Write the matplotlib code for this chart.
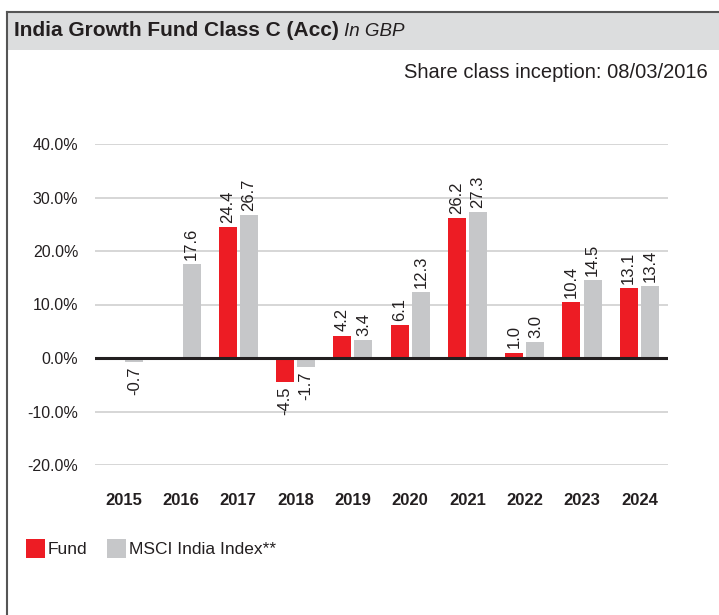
import matplotlib
matplotlib.use("Agg")
import matplotlib.pyplot as plt
from matplotlib.patches import Rectangle
from matplotlib.lines import Line2D
import numpy as np

years = ["2015", "2016", "2017", "2018", "2019", "2020", "2021", "2022", "2023", "2024"]
fund = [None, None, 24.4, -4.5, 4.2, 6.1, 26.2, 1.0, 10.4, 13.1]
index = [-0.7, 17.6, 26.7, -1.7, 3.4, 12.3, 27.3, 3.0, 14.5, 13.4]
yticks = [-20, -10, 0, 10, 20, 30, 40]

RED = "#ed1c24"
GREY = "#c6c7c9"
TXT = "#231f20"
W, H = 719, 615
plt.rcParams['font.family'] = ['Liberation Sans', 'DejaVu Sans']
fig = plt.figure(figsize=(W / 100, H / 100), dpi=100)


def fx(px):
    return px / W


def fy(py):
    return 1 - py / H


# frame and header
fig.patches.append(Rectangle((fx(7), fy(50)), 1 - fx(7), fy(12) - fy(50),
                             transform=fig.transFigure, facecolor="#dcddde", edgecolor="none"))
fig.lines.append(Line2D([fx(7), 1], [fy(12), fy(12)], transform=fig.transFigure, color="#555555", lw=1.5))
fig.lines.append(Line2D([fx(7), fx(7)], [fy(12), 0], transform=fig.transFigure, color="#555555", lw=1.5))

title = fig.text(fx(14), fy(31), "India Growth Fund Class C (Acc)", fontsize=15,
                 fontweight="bold", va="center", ha="left", color=TXT)
fig.canvas.draw()
bb = title.get_window_extent()
fig.text((bb.x1 + 5) / W, fy(31), "In GBP", fontsize=13.5, style="italic",
         va="center", ha="left", color=TXT)
fig.text(fx(708), fy(72), "Share class inception: 08/03/2016", fontsize=14.5,
         va="center", ha="right", color=TXT)

# axes: x 95..668, y: 40% at 144, -20% at 465
ax = fig.add_axes([fx(95), fy(465), fx(668) - fx(95), fy(144) - fy(465)])
ax.set_xlim(-0.5, len(years) - 0.5)
ax.set_ylim(-20, 40)
x = np.arange(len(years))
bw = 0.315
off = 0.185
for i in range(len(years)):
    if fund[i] is not None:
        v = fund[i]
        ax.bar(x[i] - off, v, bw, color=RED, zorder=3)
        ax.text(x[i] - off, v + (0.8 if v >= 0 else -0.8), f"{v:.1f}", rotation=90,
                ha="center", va="bottom" if v >= 0 else "top", fontsize=12, color=TXT)
    v = index[i]
    ax.bar(x[i] + off, v, bw, color=GREY, zorder=3)
    ax.text(x[i] + off, v + (0.8 if v >= 0 else -0.8), f"{v:.1f}", rotation=90,
            ha="center", va="bottom" if v >= 0 else "top", fontsize=12, color=TXT)

ax.set_yticks(yticks)
ax.set_yticklabels([f"{t:.1f}%" for t in yticks], fontsize=11.5, color=TXT)
for t in yticks:
    if t != 0:
        ax.axhline(t, color="#d0d0d0", lw=1.2, zorder=1)
ax.axhline(0, color=TXT, lw=2.2, zorder=4)
ax.tick_params(axis="y", length=0, pad=12)
ax.set_xticks(x)
ax.set_xticklabels(years, fontsize=12, fontweight="bold", color=TXT)
ax.tick_params(axis="x", length=0, pad=20)
for s in ax.spines.values():
    s.set_visible(False)
ax.set_facecolor("none")

# legend
fig.patches.append(Rectangle((fx(26), fy(558)), fx(45) - fx(26), fy(539) - fy(558),
                             transform=fig.transFigure, facecolor=RED, edgecolor="none"))
fig.text(fx(48), fy(549), "Fund", fontsize=12.5, va="center", ha="left", color=TXT)
fig.patches.append(Rectangle((fx(107), fy(558)), fx(126) - fx(107), fy(539) - fy(558),
                             transform=fig.transFigure, facecolor=GREY, edgecolor="none"))
fig.text(fx(129), fy(549), "MSCI India Index**", fontsize=12.5, va="center", ha="left", color=TXT)

fig.savefig("out.png", dpi=100)
